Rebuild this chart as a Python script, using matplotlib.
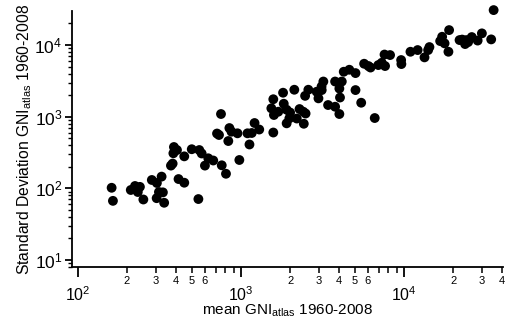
import math
import matplotlib
matplotlib.use('Agg')
import matplotlib.pyplot as plt
from matplotlib.ticker import LogLocator, FuncFormatter, LogFormatterSciNotation

plt.rcParams['font.family'] = ['Liberation Sans', 'DejaVu Sans']
plt.rcParams['mathtext.fontset'] = 'custom'
plt.rcParams['mathtext.rm'] = 'Liberation Sans'
plt.rcParams['mathtext.it'] = 'Liberation Sans:italic'

# mean GNI (atlas) 1960-2008 and its standard deviation
mean_gni = [161, 164, 211, 224, 240, 233, 252, 284, 305, 326,
            314, 304, 332, 338, 372, 381, 414, 449, 548, 601,
            676, 762, 809, 977, 388, 385, 405, 449, 499, 555,
            574, 630, 754, 713, 733, 849, 875, 836, 952, 1096,
            1164, 1127, 1211, 1294, 1578, 1578, 1535, 1592, 1693, 1811,
            1829, 1905, 2000, 1979, 1905, 2123, 2198, 2285, 2410, 2489,
            2427, 2472, 2588, 2911, 2985, 3199, 3118, 3126, 3420, 3776,
            4010, 3776, 4150, 4010, 4046, 4266, 4616, 5036, 5036, 5458,
            5689, 6045, 6225, 6607, 6950, 7295, 7643, 7586, 8204, 9591,
            9625, 10940, 12110, 13340, 14040, 14300, 16640, 17110, 17710, 18880,
            18700, 22700, 23660, 24160, 26000, 28250, 29990, 34200, 35400, 24700,
            21880]
sd_gni = [102, 67, 95, 108, 105, 89, 70, 131, 119, 146,
          89, 73, 88, 63, 208, 222, 135, 120, 71, 208,
          245, 210, 160, 249, 378, 309, 343, 280, 352, 343,
          307, 263, 1091, 583, 556, 695, 618, 458, 587, 587,
          593, 410, 817, 663, 602, 1754, 1310, 1057, 1175, 2163,
          1518, 1252, 1145, 950, 809, 2380, 944, 1280, 1175, 1109,
          798, 1956, 2380, 2232, 1805, 3099, 2637, 2355, 1456, 1379,
          1091, 3099, 3099, 2473, 1853, 4244, 4525, 4064, 2355, 1568,
          5487, 5097, 4856, 959, 5262, 5663, 5097, 7374, 7253, 6180,
          5431, 8068, 8518, 6735, 8518, 9378, 11370, 13060, 10560, 16180,
          8068, 11930, 10330, 11740, 12930, 11560, 14560, 12000, 30760, 11010,
          11740]

minor_labeled = [2, 3, 4, 5, 6]

fig = plt.figure(figsize=(5.12, 3.26), dpi=100)
ax = fig.add_axes([0.1406, 0.181, 0.8418, 0.785])

ax.scatter(mean_gni, sd_gni, s=50, color='black', edgecolors='none', clip_on=False, zorder=3)

ax.set_xscale('log')
ax.set_yscale('log')
ax.set_xlim(92, 40400)
ax.set_ylim(8.0, 29800)

for s in ['top', 'right']:
    ax.spines[s].set_visible(False)
for s in ['left', 'bottom']:
    ax.spines[s].set_linewidth(1.3)

ax.xaxis.set_major_locator(LogLocator(base=10, numticks=10))
ax.xaxis.set_minor_locator(LogLocator(base=10, subs=range(2, 10), numticks=20))
ax.yaxis.set_major_locator(LogLocator(base=10, numticks=10))
ax.yaxis.set_minor_locator(LogLocator(base=10, subs=range(2, 10), numticks=20))

ax.xaxis.set_major_formatter(LogFormatterSciNotation())
ax.yaxis.set_major_formatter(LogFormatterSciNotation())


def minor_fmt(v, pos):
    m = int(round(v / 10 ** math.floor(math.log10(v) + 1e-9)))
    return str(m) if m in minor_labeled else ''


ax.xaxis.set_minor_formatter(FuncFormatter(minor_fmt))

ax.tick_params(axis='x', which='major', length=7, width=1.3, pad=6, labelsize=11.5)
ax.tick_params(axis='x', which='minor', length=4.5, width=1.1, pad=2, labelsize=8)
ax.tick_params(axis='y', which='major', length=5, width=1.3, pad=2, labelsize=12.5)
ax.tick_params(axis='y', which='minor', length=3, width=1.0)

ax.set_xlabel(r'mean GNI$_{\mathrm{atlas}}$ 1960-2008', fontsize=11, labelpad=-1)
ax.set_ylabel(r'Standard Deviation GNI$_{\mathrm{atlas}}$ 1960-2008', fontsize=11.3, labelpad=0)

fig.savefig('out.png', dpi=100)
